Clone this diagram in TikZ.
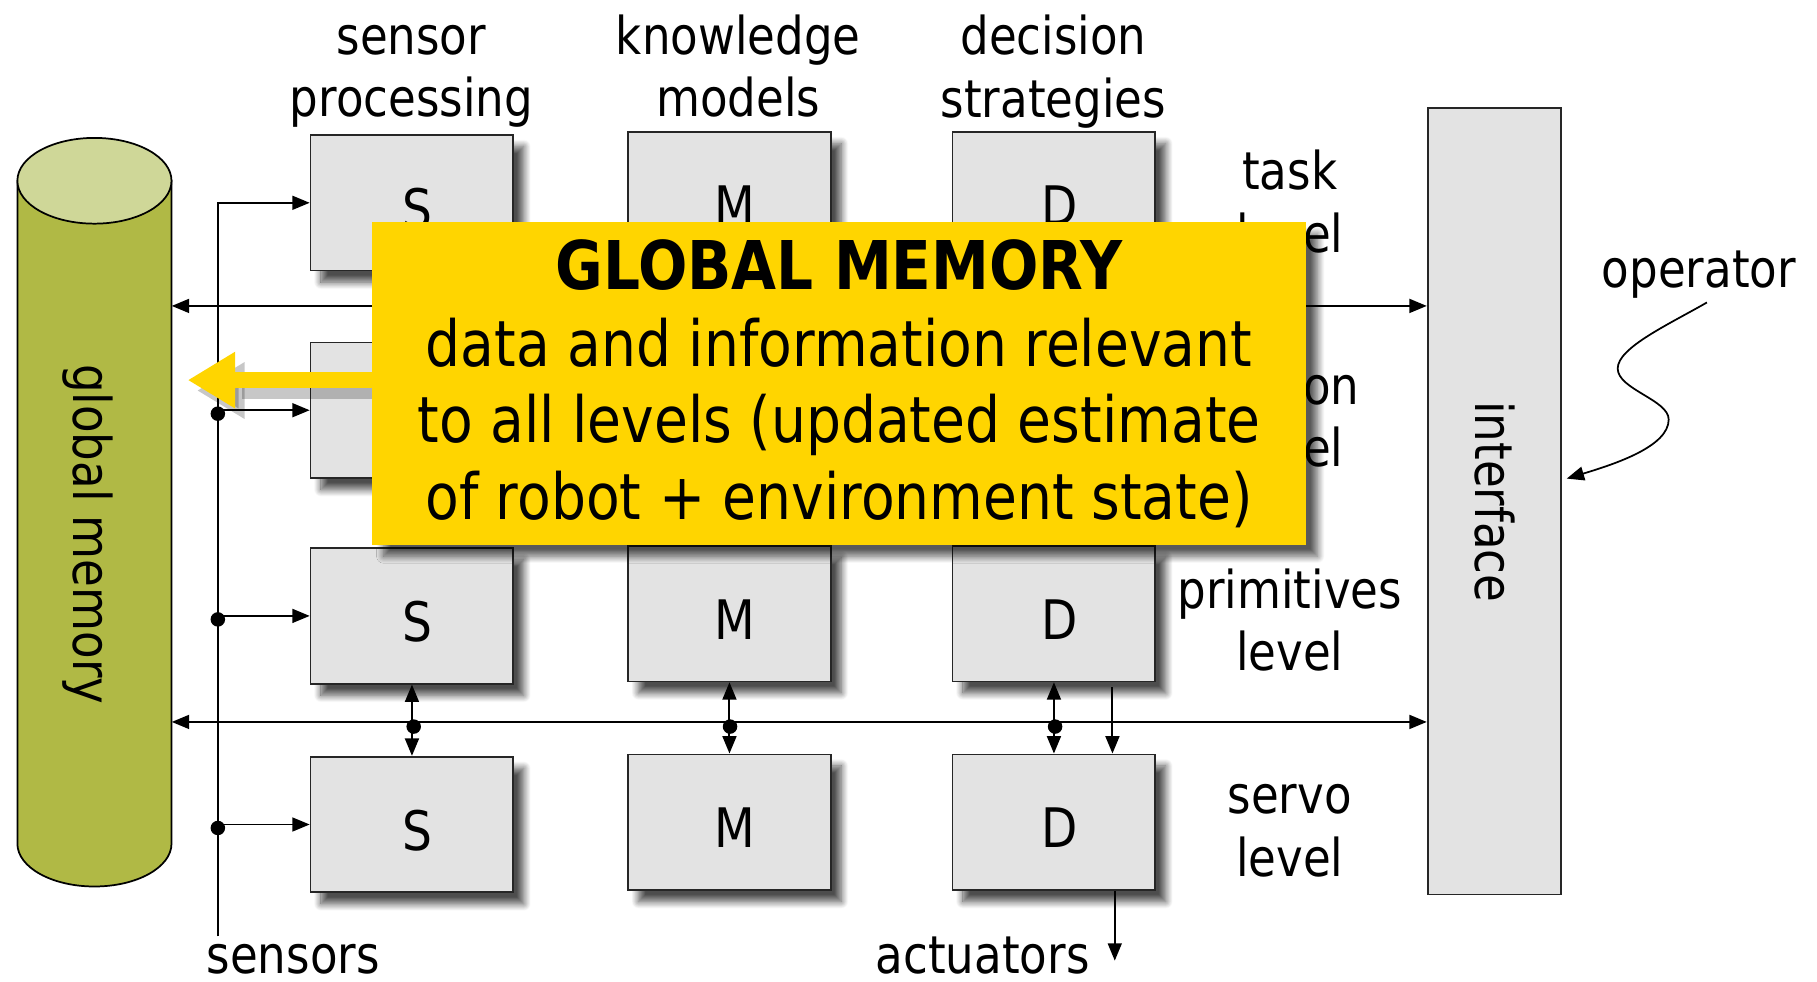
\documentclass[tikz,border=0pt]{standalone}
\usepackage{fontspec}
\setmainfont{DejaVu Sans}[FakeStretch=0.865]
\usetikzlibrary{arrows.meta,shadows.blur}
\definecolor{boxgray}{HTML}{E3E3E3}
\definecolor{olivebody}{HTML}{B0B945}
\definecolor{olivetop}{HTML}{CFD798}
\definecolor{ylw}{HTML}{FFD500}
\begin{document}
\begin{tikzpicture}[x=1pt,y=-1pt,
  font=\fontsize{45}{54}\selectfont,
  blk/.style={draw=black!85, line width=1.5pt, fill=boxgray, minimum width=175pt, minimum height=117pt, inner sep=0pt,
    blur shadow={shadow xshift=9pt, shadow yshift=-10pt, shadow blur radius=6pt, shadow blur steps=12, shadow opacity=70}},
  lbl/.style={align=center, inner sep=0pt},
  letter/.style={inner sep=0pt, font=\fontsize{47}{56}\selectfont},
  tip/.style={-{Triangle[length=15pt,width=12pt]}},
  conn/.style={line width=1.7pt, tip},
  both/.style={line width=1.7pt, {Triangle[length=15pt,width=12pt]}-{Triangle[length=15pt,width=12pt]}},
  dot/.style={circle, fill=black, inner sep=0pt, minimum size=12.5pt},
  ybox/.style={fill=ylw, minimum width=806pt, minimum height=278pt, inner sep=0pt, align=center,
    font=\fontsize{55}{66}\selectfont,
    blur shadow={shadow xshift=10pt, shadow yshift=-10pt, shadow blur radius=6pt, shadow blur steps=12, shadow opacity=65}},
  yarrow/.style={draw=ylw, line width=14pt, -{Triangle[length=41pt,width=46pt]}}
]
\useasboundingbox (0,0) rectangle (1568,847);

% ---------- global memory cylinder ----------
\fill[olivebody, draw=black, line width=1.5pt] (15,156) -- (15,728)
   arc[start angle=180, end angle=0, x radius=66.5, y radius=37] -- (148,156) -- cycle;
\filldraw[fill=olivetop, draw=black, line width=1.5pt] (81.5,156) ellipse[x radius=66.5, y radius=37];
\node[inner sep=0pt, minimum width=133pt, minimum height=646pt] (gm) at (81.5,442) {};
\node[lbl, rotate=-90] (gmlabel) at (76,461) {global memory};

% ---------- interface ----------
\node[draw=black!85, line width=1.5pt, fill=boxgray, minimum width=115pt, minimum height=679pt, inner sep=0pt] (iface) at (1289.5,432.5) {};
\node[lbl, rotate=-90] (ifacelabel) at (1290,433) {interface};

% ---------- column headers ----------
\node[lbl] (hS) at (355,66) {sensor\\processing};
\node[lbl] (hM) at (637,57) {knowledge\\models};
\node[lbl] (hD) at (909,62) {decision\\strategies};

% ---------- level labels ----------
\node[lbl] (l1) at (1113,174) {task\\level};
\node[lbl] (l2) at (1113,359) {action\\level};
\node[lbl] (l3) at (1113,535) {primitives\\level};
\node[lbl] (l4) at (1113,717) {servo\\level};

% ---------- boxes ----------
\node[blk] (S1) at (355.5,175) {};
\node[blk] (M1) at (629.5,172.5) {};
\node[blk] (D1) at (909.5,172.5) {};
\node[blk] (S2) at (355.5,354) {};
\node[blk] (S3) at (355.5,531.5) {};
\node[blk] (M3) at (629.5,529.5) {};
\node[blk] (D3) at (909.5,529.5) {};
\node[blk] (S4) at (355.5,711.5) {};
\node[blk] (M4) at (629.5,709.5) {};
\node[blk] (D4) at (909.5,709.5) {};
\foreach \b/\t in {S1/S,M1/M,D1/D,S3/S,M3/M,D3/D,S4/S,M4/M,D4/D}
  \node[letter] (t\b) at ([xshift=5pt,yshift=-5pt]\b.center) {\t};

% ---------- buses ----------
\coordinate (busA) at (0,264);
\coordinate (busB) at (0,623);
\draw[both] (gm.east |- busA) -- (iface.west |- busA);
\draw[both] (gm.east |- busB) -- (iface.west |- busB);

% ---------- sensors ----------
\coordinate (sb) at (188,808);
\draw[conn] (sb) |- (S1.west);
\node[dot] (d2) at ([yshift=-3pt]sb |- S2.west) {};
\node[dot] (d3) at ([yshift=-3pt]sb |- S3.west) {};
\node[dot] (d4) at ([yshift=-3pt]sb |- S4.west) {};
\draw[conn] (sb |- S2.west) -- (S2.west);
\draw[conn] (sb |- S3.west) -- (S3.west);
\draw[conn] (sb |- S4.west) -- (S4.west);
\node[lbl, anchor=base] (sensors) at (253,840) {sensors};

% ---------- level 3 - level 4 links ----------
\draw[both] (S3.south) -- (S4.north);
\draw[both] (M3.south) -- (M4.north);
\draw[both] (D3.south) -- (D4.north);
\node[dot] (bS) at ([xshift=1.5pt,yshift=-4pt]S3.south |- busB) {};
\node[dot] (bM) at ([xshift=0.5pt,yshift=-4pt]M3.south |- busB) {};
\node[dot] (bD) at ([xshift=1pt,yshift=-4pt]D3.south |- busB) {};
\draw[conn] ([xshift=50.5pt,yshift=-4pt]D3.south) -- ([xshift=50.5pt]D4.north);
\coordinate (act) at (962,829);
\draw[conn] (D4.south -| act) -- (act);
\node[lbl, anchor=base] (actuators) at (848,840) {actuators};

% ---------- operator ----------
\node[lbl] (op) at (1466,237) {operator};
\coordinate (opS) at (1473,261);
\coordinate (opT) at (1352,413);
\draw[line width=1.5pt, tip] (opS) .. controls (1440,280) and (1396,300) .. (1396,318)
  .. controls (1396,336) and (1440,345) .. (1440,362)
  .. controls (1440,385) and (1395,400) .. (opT);

% ---------- yellow callout ----------
\node[ybox] (yb) at (724,331) {{\fontsize{58}{66}\selectfont\bfseries GLOBAL MEMORY}\\data and information relevant\\to all levels (updated estimate\\of robot + environment state)};
\coordinate (ya) at (0,328);
\coordinate (ytip) at (162,328);
\draw[yarrow, draw=black, opacity=0.22] ([xshift=0pt,yshift=-9pt]yb.west |- ya) -- ([xshift=8pt,yshift=-9pt]ytip);
\draw[yarrow] (yb.west |- ya) -- (ytip);
\end{tikzpicture}
\end{document}
